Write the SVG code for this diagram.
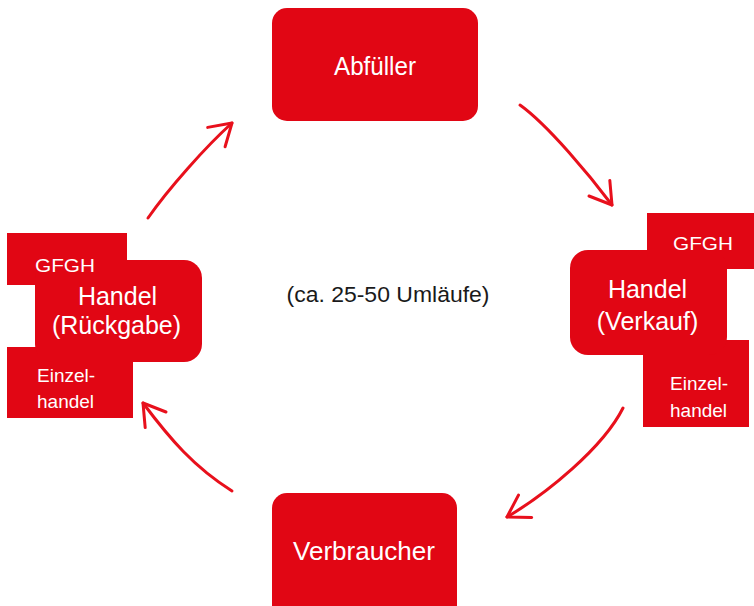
<svg xmlns="http://www.w3.org/2000/svg" width="754" height="606" viewBox="0 0 754 606">
  <style>
    .box { fill: #e10614; }
    .t { fill: #ffffff; font-family: "Liberation Sans", Arial, sans-serif; }
    .big { font-size: 25px; }
    .small { font-size: 19px; }
    .c { text-anchor: middle; }
    .arrow { fill: none; stroke: #e8101c; stroke-width: 3; stroke-linecap: round; marker-end: url(#head); }
    .center { fill: #1a1a1a; font-family: "Liberation Sans", Arial, sans-serif; font-size: 22px; text-anchor: middle; }
  </style>
  <defs>
    <marker id="head" markerUnits="userSpaceOnUse" markerWidth="30" markerHeight="30" viewBox="-25 -15 30 30" refX="0" refY="0" orient="auto" overflow="visible">
      <path d="M-21,-13 L0,0 L-21,13" fill="none" stroke="#e8101c" stroke-width="3" stroke-linecap="round" stroke-linejoin="round"/>
    </marker>
  </defs>
  <rect width="754" height="606" fill="#ffffff"/>

  <g id="abfueller">
    <rect class="box" x="272" y="8" width="206" height="113" rx="15"/>
    <text class="t big c" x="375" y="75" textLength="82" lengthAdjust="spacingAndGlyphs">Abfüller</text>
  </g>

  <g id="verbraucher">
    <rect class="box" x="272" y="493" width="185" height="130" rx="15"/>
    <text class="t big c" x="364" y="560" textLength="142" lengthAdjust="spacingAndGlyphs">Verbraucher</text>
  </g>

  <g id="handel-verkauf">
    <rect class="box" x="647" y="213" width="107" height="56"/>
    <rect class="box" x="643" y="340" width="106" height="87"/>
    <rect class="box" x="570" y="250" width="157" height="105" rx="18"/>
    <text class="t small c" x="703" y="250" textLength="60" lengthAdjust="spacingAndGlyphs">GFGH</text>
    <text class="t big c" x="647.5" y="298">Handel</text>
    <text class="t big c" x="647.5" y="330">(Verkauf)</text>
    <text class="t small" x="670" y="390">Einzel-</text>
    <text class="t small" x="670" y="417">handel</text>
  </g>

  <g id="handel-rueckgabe">
    <rect class="box" x="7" y="233" width="120" height="52"/>
    <rect class="box" x="7" y="347" width="126" height="71"/>
    <rect class="box" x="35" y="260" width="167" height="102" rx="18"/>
    <text class="t small c" x="65" y="272" textLength="60" lengthAdjust="spacingAndGlyphs">GFGH</text>
    <text class="t big c" x="117.5" y="305">Handel</text>
    <text class="t big c" x="116.5" y="334">(Rückgabe)</text>
    <text class="t small" x="37" y="382">Einzel-</text>
    <text class="t small" x="37" y="408">handel</text>
  </g>

  <g id="center-label">
    <text class="center" x="388" y="302" textLength="203" lengthAdjust="spacingAndGlyphs">(ca. 25-50 Umläufe)</text>
  </g>

  <g id="connectors">
    <path class="arrow" d="M148,218 C168,189 206,146.4 232,123"/>
    <path class="arrow" d="M520,105 C548,125 591,177 612,205"/>
    <path class="arrow" d="M623,408 C603,448 546,494 507,517"/>
    <path class="arrow" d="M232,491 C194,467 170,439 143,403"/>
  </g>
</svg>
